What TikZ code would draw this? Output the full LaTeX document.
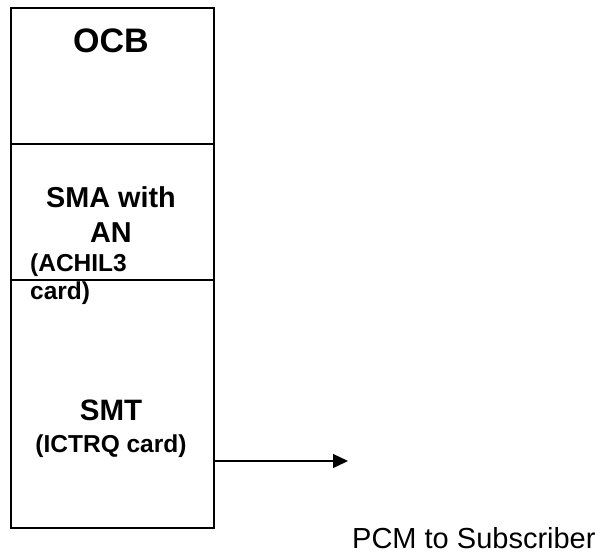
\documentclass[tikz,border=0pt]{standalone}
\usepackage{fontspec}
\setmainfont{Liberation Sans}
\usetikzlibrary{arrows.meta}
\begin{document}
\begin{tikzpicture}[x=1pt,y=-1pt,
  blk/.style={draw=black,line width=1.5pt,rectangle,inner sep=0pt,anchor=north west,minimum width=203pt},
  lbl/.style={inner sep=0pt,anchor=base,font=\bfseries},
  conn/.style={line width=1.3pt,-{Triangle[length=15pt,width=14pt]}}]
\useasboundingbox (0,0) rectangle (607,554);
\node[blk,minimum height=136pt] (ocb) at (10,7) {};
\node[blk,minimum height=136pt] (sma) at (10,143) {};
\node[blk,minimum height=248pt] (smt) at (10,279) {};
\node[lbl,font=\bfseries\fontsize{34}{40}\selectfont] (tocb) at (111,52) {OCB};
\node[lbl,font=\bfseries\fontsize{28.8}{34}\selectfont] (tsma1) at (111,207) {SMA with};
\node[lbl,font=\bfseries\fontsize{28.8}{34}\selectfont] (tsma2) at (111,242) {AN};
\node[lbl,anchor=base west,font=\bfseries\fontsize{24.5}{28}\selectfont] (tsma3) at (30,271) {(ACHIL3};
\node[lbl,anchor=base west,font=\bfseries\fontsize{24.5}{28}\selectfont] (tsma4) at (30,299) {card)};
\node[lbl,font=\bfseries\fontsize{29.5}{34}\selectfont] (tsmt1) at (111,420) {SMT};
\node[lbl,font=\bfseries\fontsize{24.5}{28}\selectfont] (tsmt2) at (111,452) {(ICTRQ card)};
\node[inner sep=0pt,anchor=base west,font=\fontsize{29}{34}\selectfont] (pcm) at (352,548) {PCM to Subscriber};
\coordinate (tip) at (348,461);
\draw[conn] (smt.east |- tip) -- (tip);
\end{tikzpicture}
\end{document}
